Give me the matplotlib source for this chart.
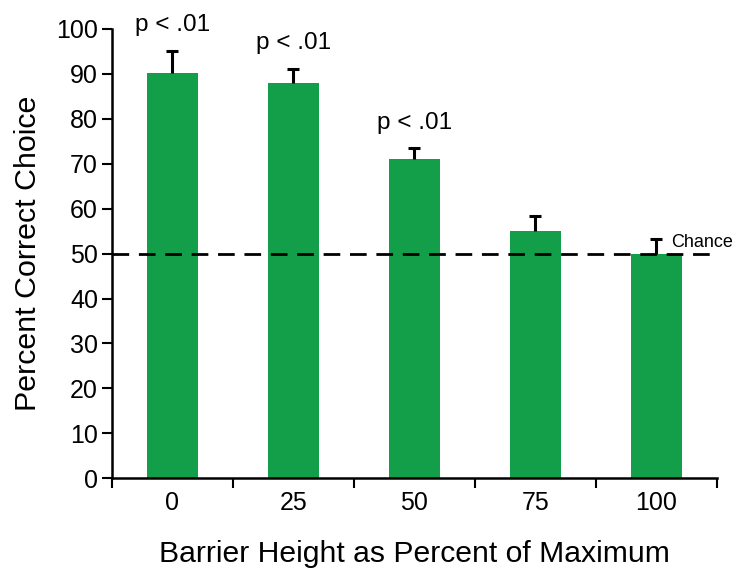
import matplotlib.pyplot as plt
import numpy as np

plt.rcParams['font.family'] = ['Liberation Sans', 'DejaVu Sans']

barrierHeights = ['0', '25', '50', '75', '100']
percentCorrect = [90.2, 88.0, 71.1, 55.1, 50.0]
upperError = [5.0, 3.2, 2.3, 3.2, 3.3]
pLabels = ['p < .01', 'p < .01', 'p < .01', '', '']
chanceLevel = 50

fig = plt.figure(figsize=(7.36, 5.68), dpi=100)
ax = fig.add_axes([0.152, 0.158, 0.822, 0.791])

x = np.arange(len(barrierHeights))
tops = np.array(percentCorrect) + np.array(upperError)
ax.bar(x, percentCorrect, width=0.42, color='#139E4A', zorder=2)
# only the upper half of each error bar is shown
ax.vlines(x, percentCorrect, tops, color='black', linewidth=2.2, zorder=3)
ax.plot(x, tops, linestyle='none', marker='_', markersize=9, markeredgewidth=2.2,
        color='black', zorder=3)

for i, label in enumerate(pLabels):
    if label:
        ax.text(x[i], tops[i] + 3.2, label, ha='center', va='bottom', fontsize=17.5)

ax.axhline(chanceLevel, color='black', linestyle=(0, (6, 3.5)), linewidth=2, zorder=4)
ax.text(x[-1] + 0.12, chanceLevel + 0.6, 'Chance', ha='left', va='bottom',
        fontsize=13, clip_on=False)

ax.set_xlim(-0.5, len(x) - 0.5)
ax.set_ylim(0, 100)
ax.set_yticks(range(0, 101, 10))
ax.set_xticks(x)
ax.set_xticklabels(barrierHeights)
ax.set_xticks(np.arange(-0.5, len(x), 1), minor=True)
ax.tick_params(axis='x', which='major', length=0, labelsize=18, pad=9)
ax.tick_params(axis='x', which='minor', length=7, width=1.5, direction='out')
ax.tick_params(axis='y', length=7, width=1.5, labelsize=18, pad=3)

for side in ['top', 'right']:
    ax.spines[side].set_visible(False)
for side in ['left', 'bottom']:
    ax.spines[side].set_linewidth(1.8)

ax.set_xlabel('Barrier Height as Percent of Maximum', fontsize=21.7, labelpad=18)
ax.set_ylabel('Percent Correct Choice', fontsize=21.9, labelpad=10)

plt.savefig('out.png', dpi=100)
